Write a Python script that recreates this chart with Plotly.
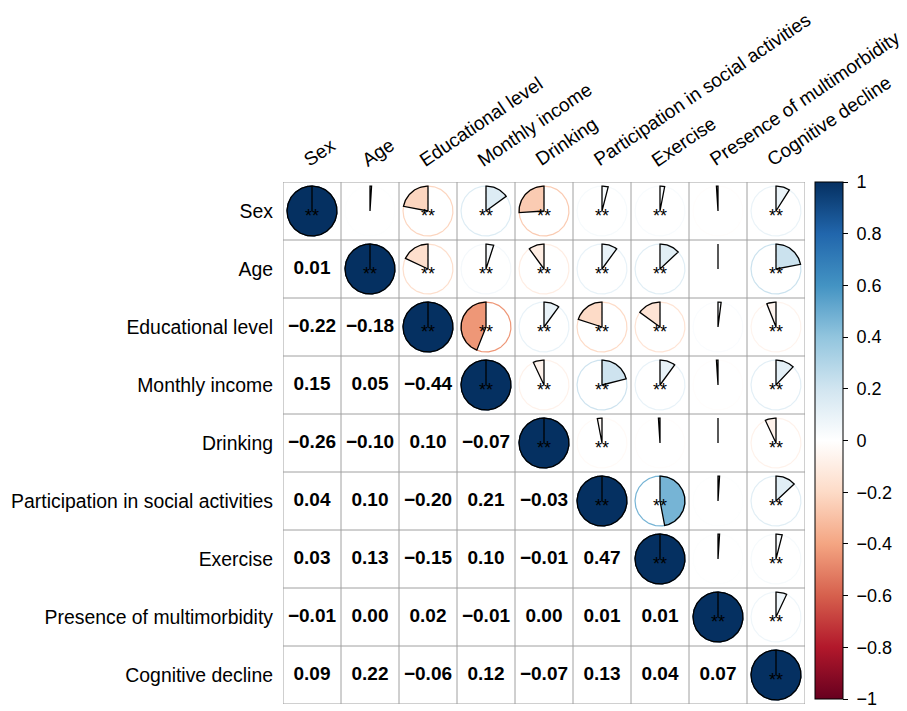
import numpy as np
import plotly.graph_objects as go

# Variables (rows/columns of the correlation matrix)
labels = ["Sex", "Age", "Educational level", "Monthly income", "Drinking",
          "Participation in social activities", "Exercise",
          "Presence of multimorbidity", "Cognitive decline"]

# Lower-triangle correlation coefficients, row by row
corr_rows = [
    [],
    [0.01],
    [-0.22, -0.18],
    [0.15, 0.05, -0.44],
    [-0.26, -0.10, 0.10, -0.07],
    [0.04, 0.10, -0.20, 0.21, -0.03],
    [0.03, 0.13, -0.15, 0.10, -0.01, 0.47],
    [-0.01, 0.00, 0.02, -0.01, 0.00, 0.01, 0.01],
    [0.09, 0.22, -0.06, 0.12, -0.07, 0.13, 0.04, 0.07],
]

# Significance marks (1 = "**"), same layout as corr_rows
sig_rows = [
    [],
    [0],
    [1, 1],
    [1, 1, 1],
    [1, 1, 1, 1],
    [1, 1, 1, 1, 1],
    [1, 1, 1, 1, 0, 1],
    [0, 0, 0, 0, 0, 0, 0],
    [1, 1, 1, 1, 1, 1, 1, 1],
]

# Colour bar ticks
cbar_ticks = [1, 0.8, 0.6, 0.4, 0.2, 0, -0.2, -0.4, -0.6, -0.8, -1]

# RdBu diverging palette from -1 to 1
palette = ["#67001F", "#B2182B", "#D6604D", "#F4A582", "#FDDBC7", "#FFFFFF",
           "#D1E5F0", "#92C5DE", "#4393C3", "#2166AC", "#053061"]

n = len(labels)
C = np.eye(n)
S = np.eye(n, dtype=int)
for i in range(n):
    for j, v in enumerate(corr_rows[i]):
        C[i, j] = C[j, i] = v
        S[i, j] = S[j, i] = sig_rows[i][j]


def hex2rgb(h):
    h = h.lstrip("#")
    return [int(h[k:k + 2], 16) for k in (0, 2, 4)]


pal_rgb = np.array([hex2rgb(c) for c in palette], dtype=float)
pal_pos = np.linspace(-1, 1, len(palette))


def col(v):
    rgb = [np.interp(v, pal_pos, pal_rgb[:, k]) for k in range(3)]
    return "rgb({:.0f},{:.0f},{:.0f})".format(*rgb)


def minus(s):
    return s.replace("-", "\u2212")


FONT = "Liberation Sans, Arial, sans-serif"
R = 0.43  # pie radius in cell units

fig = go.Figure()

theta_full = np.linspace(0, 2 * np.pi, 181)

# Pies on the upper triangle and diagonal
for i in range(n):
    for j in range(i, n):
        v = C[i, j]
        cx, cy = j + 1, i + 1
        # faint outline circle in the value colour
        fig.add_trace(go.Scatter(
            x=cx + R * np.sin(theta_full), y=cy - R * np.cos(theta_full),
            mode="lines", line=dict(color=col(v), width=1.2),
            hoverinfo="skip", showlegend=False))
        # wedge: clockwise from 12 o'clock for positive, counter-clockwise for negative
        npts = max(2, int(abs(v) * 180) + 2)
        th = np.linspace(0, v * 2 * np.pi, npts)
        xs = np.concatenate([[cx], cx + R * np.sin(th), [cx]])
        ys = np.concatenate([[cy], cy - R * np.cos(th), [cy]])
        fig.add_trace(go.Scatter(
            x=xs, y=ys, mode="lines", fill="toself", fillcolor=col(v),
            line=dict(color="black", width=1.3),
            hoverinfo="skip", showlegend=False))

# Significance stars
sx, sy = [], []
for i in range(n):
    for j in range(i, n):
        if S[i, j]:
            sx.append(j + 1)
            sy.append(i + 1 + 0.12)
fig.add_trace(go.Scatter(
    x=sx, y=sy, mode="text", text=["**"] * len(sx),
    textfont=dict(family=FONT, size=18, color="black"),
    hoverinfo="skip", showlegend=False))

# Coefficients on the lower triangle
tx, ty, tt = [], [], []
for i in range(n):
    for j in range(i):
        tx.append(j + 1)
        ty.append(i + 1)
        tt.append(minus(f"{C[i, j]:.2f}"))
fig.add_trace(go.Scatter(
    x=tx, y=ty, mode="text", text=tt,
    textfont=dict(family=FONT, size=19, color="black", weight="bold"),
    hoverinfo="skip", showlegend=False))

# Colour bar carrier
fig.add_trace(go.Scatter(
    x=list(range(1, n + 1)), y=list(range(1, n + 1)), mode="markers",
    marker=dict(size=0.1, opacity=0, color=np.diag(C), cmin=-1, cmax=1,
                colorscale=[[k / (len(palette) - 1), c] for k, c in enumerate(palette)],
                showscale=True,
                colorbar=dict(
                    x=(815 - 283) / 522, xanchor="left", xpad=0,
                    y=1, yanchor="top", ypad=0,
                    len=(699 - 182) / 522, lenmode="fraction", thickness=28,
                    outlinecolor="black", outlinewidth=1,
                    tickvals=cbar_ticks,
                    ticktext=[" " + minus(f"{t:g}") for t in cbar_ticks],
                    ticks="outside", ticklen=5, tickcolor="black",
                    ticklabeloverflow="allow",
                    tickfont=dict(family=FONT, size=18, color="black"))),
    hoverinfo="skip", showlegend=False))

# Cell grid
shapes = []
for k in range(n + 1):
    p = k + 0.5
    shapes.append(dict(type="line", x0=p, x1=p, y0=0.5, y1=n + 0.5,
                       line=dict(color="#a0a0a0", width=1), layer="below"))
    shapes.append(dict(type="line", x0=0.5, x1=n + 0.5, y0=p, y1=p,
                       line=dict(color="#a0a0a0", width=1), layer="below"))

# Rotated column labels above the grid
annotations = []
for j, lab in enumerate(labels):
    annotations.append(dict(
        x=j + 1, xref="x", y=1, yref="paper", text=lab, showarrow=False,
        textangle=-34, xanchor="left", yanchor="bottom",
        xshift=-15, yshift=9,
        font=dict(family=FONT, size=19, color="black")))

fig.update_layout(
    width=907, height=711,
    margin=dict(l=283, r=102, t=182, b=7, autoexpand=False),
    paper_bgcolor="white", plot_bgcolor="white",
    shapes=shapes, annotations=annotations,
    xaxis=dict(range=[0.5, n + 0.5], showticklabels=False, showgrid=False,
               zeroline=False, showline=False, ticks="", automargin=False),
    yaxis=dict(range=[n + 0.5, 0.5], tickvals=list(range(1, n + 1)),
               ticktext=labels, showgrid=False, zeroline=False, showline=False,
               ticks="", ticklabelstandoff=9, automargin=False,
               tickfont=dict(family=FONT, size=19.4, color="black")),
)

fig.write_html("out.html")
